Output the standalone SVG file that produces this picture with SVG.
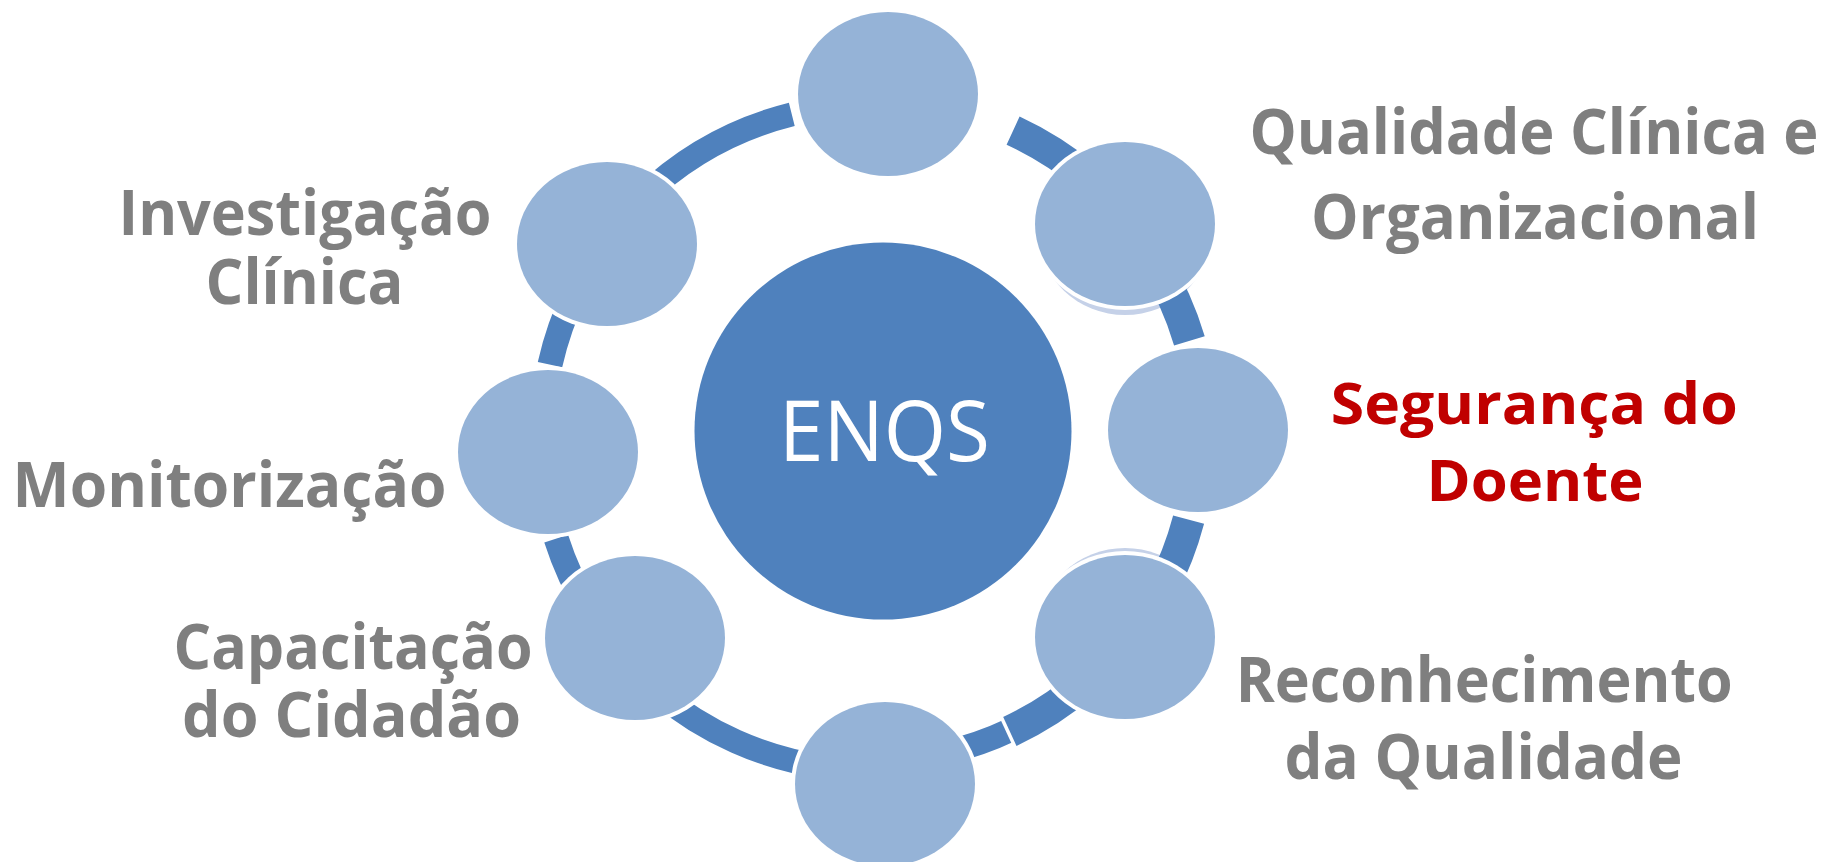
<svg xmlns="http://www.w3.org/2000/svg" width="1830" height="862" viewBox="0 0 1830 862">
<style>
.arc{fill:none;stroke:#4f81bd;stroke-linecap:butt}
.halo{fill:#ffffff}
.node{fill:#95b3d7}
.ghost{fill:#c5d1e8}
.lbl{font-family:"Open Sans","Noto Sans","DejaVu Sans",sans-serif;font-weight:700;font-size:63px;fill:#7f7f7f;text-anchor:middle}
.red{fill:#c00000;font-size:58px}
.hub{font-family:"Open Sans","Noto Sans","DejaVu Sans",sans-serif;font-weight:400;font-size:85px;fill:#ffffff;text-anchor:middle}
</style>
<rect width="1830" height="862" fill="#ffffff"/>
<g id="ghosts">
<ellipse class="ghost" cx="1125" cy="233" rx="86" ry="82"/>
<ellipse class="ghost" cx="1125" cy="630" rx="86" ry="82"/>
</g>
<g id="connectors">
<path class="arc" stroke-width="24" d="M641.8,197.6 A331.4,331.4 0 0 1 791.8,114.4"/>
<path class="arc" stroke-width="31" d="M1013.1,130.6 A336.4,336.4 0 0 1 1088.2,178.3"/>
<path class="arc" stroke-width="32" d="M1153.1,260.4 A331.4,331.4 0 0 1 1189.4,340.8"/>
<path class="arc" stroke-width="32" d="M1188.6,519.6 A327.5,327.5 0 0 1 1161.2,589.8"/>
<path class="arc" stroke-width="24" d="M1011.9,729.3 A325,325 0 0 1 939.6,753.9"/>
<path class="arc" stroke-width="32" d="M1085.9,682 A326,326 0 0 1 1008.2,732.2"/>
<line x1="999.9" y1="714" x2="1016.6" y2="750.3" stroke="#ffffff" stroke-width="3.5"/>
<path class="arc" stroke-width="24" d="M825.5,767.1 A334.4,334.4 0 0 1 657.1,692.2"/>
<path class="arc" stroke-width="25" d="M590,612.2 A332.5,332.5 0 0 1 556.2,538.6"/>
<path class="arc" stroke-width="25" d="M550,364.6 A329.8,329.8 0 0 1 575.6,291.4"/>
</g>
<g id="node-top"><ellipse class="halo" cx="888" cy="94" rx="94" ry="86"/><ellipse class="node" cx="888" cy="94" rx="90" ry="82"/></g>
<g id="node-upper-right"><ellipse class="halo" cx="1125" cy="224" rx="94" ry="86"/><ellipse class="node" cx="1125" cy="224" rx="90" ry="82"/></g>
<g id="node-right"><ellipse class="halo" cx="1198" cy="430" rx="94" ry="86"/><ellipse class="node" cx="1198" cy="430" rx="90" ry="82"/></g>
<g id="node-lower-right"><ellipse class="halo" cx="1125" cy="637" rx="94" ry="86"/><ellipse class="node" cx="1125" cy="637" rx="90" ry="82"/></g>
<g id="node-bottom"><ellipse class="halo" cx="885" cy="784" rx="94" ry="86"/><ellipse class="node" cx="885" cy="784" rx="90" ry="82"/></g>
<g id="node-lower-left"><ellipse class="halo" cx="635" cy="638" rx="94" ry="86"/><ellipse class="node" cx="635" cy="638" rx="90" ry="82"/></g>
<g id="node-left"><ellipse class="halo" cx="548" cy="452" rx="94" ry="86"/><ellipse class="node" cx="548" cy="452" rx="90" ry="82"/></g>
<g id="node-upper-left"><ellipse class="halo" cx="607" cy="244" rx="94" ry="86"/><ellipse class="node" cx="607" cy="244" rx="90" ry="82"/></g>
<g id="node-center">
<circle cx="883" cy="431" r="188.5" fill="#4f81bd"/>
<text class="hub" x="884.5" y="461" textLength="211" lengthAdjust="spacingAndGlyphs">ENQS</text>
</g>
<g id="label-investigacao">
<text class="lbl" x="305" y="235" textLength="373" lengthAdjust="spacingAndGlyphs">Investigação</text>
<text class="lbl" x="304.5" y="304" textLength="198" lengthAdjust="spacingAndGlyphs">Clínica</text>
</g>
<g id="label-qualidade">
<text class="lbl" x="1534" y="154" textLength="569" lengthAdjust="spacingAndGlyphs">Qualidade Clínica e</text>
<text class="lbl" x="1535" y="238.5" textLength="448" lengthAdjust="spacingAndGlyphs">Organizacional</text>
</g>
<g id="label-seguranca">
<text class="lbl red" x="1534.3" y="424" textLength="407" lengthAdjust="spacingAndGlyphs">Segurança do</text>
<text class="lbl red" x="1535" y="500.5" textLength="217" lengthAdjust="spacingAndGlyphs">Doente</text>
</g>
<g id="label-reconhecimento">
<text class="lbl" x="1484.2" y="701.7" textLength="497" lengthAdjust="spacingAndGlyphs">Reconhecimento</text>
<text class="lbl" x="1483.6" y="778.7" textLength="398" lengthAdjust="spacingAndGlyphs">da Qualidade</text>
</g>
<g id="label-monitorizacao">
<text class="lbl" x="229.6" y="507" textLength="434" lengthAdjust="spacingAndGlyphs">Monitorização</text>
</g>
<g id="label-capacitacao">
<text class="lbl" x="353" y="669.3" textLength="359" lengthAdjust="spacingAndGlyphs">Capacitação</text>
<text class="lbl" x="351.6" y="737" textLength="339" lengthAdjust="spacingAndGlyphs">do Cidadão</text>
</g>
</svg>
